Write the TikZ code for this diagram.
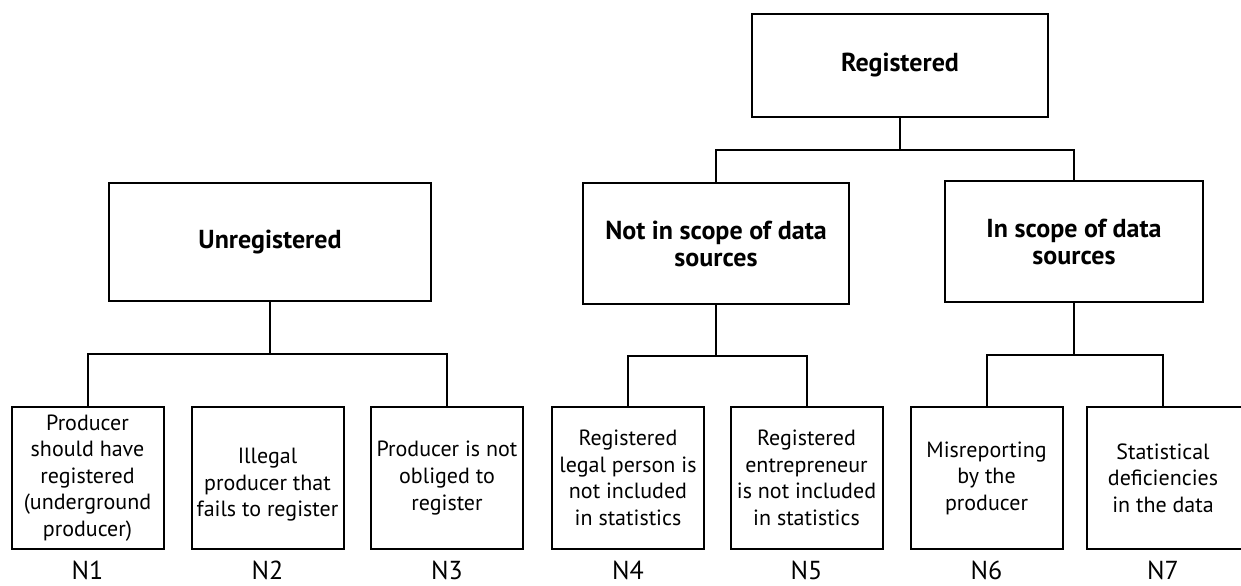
\documentclass[tikz,border=0pt]{standalone}
\usepackage{fontspec}
\setmainfont{PT Sans}
\tikzset{
  box/.style={draw, line width=1pt, inner sep=0pt, align=center,
    font=\fontsize{11}{13.3}\selectfont},
  hbox/.style={box, font=\bfseries\fontsize{13}{13.5}\selectfont},
  leaf/.style={box, minimum width={152*0.5pt}, minimum height={142*0.5pt}},
  ltext/.style={inner sep=0pt, align=center, font=\fontsize{11}{13.3}\selectfont},
  lab/.style={font=\fontsize{13}{15}\selectfont, anchor=base, inner sep=0pt},
  conn/.style={line width=1pt}
}
\begin{document}
\begin{tikzpicture}[x=0.5pt,y=-0.5pt]
\useasboundingbox (0,0) rectangle (1241,585);
% top level
\node[hbox, minimum width={296*0.5pt}, minimum height={103*0.5pt}] (reg) at (900,65.5) {Registered};
\node[hbox, minimum width={322*0.5pt}, minimum height={118*0.5pt}] (unreg) at (270,242) {Unregistered};
\node[hbox, minimum width={266*0.5pt}, minimum height={121*0.5pt}] (notin) at (716,243.5) {Not in scope of data\\sources};
\node[hbox, minimum width={258*0.5pt}, minimum height={121*0.5pt}] (ins) at (1074,241.5) {In scope of data\\sources};
% leaves
\node[leaf] (n1) at (87.5,478) {Producer\\should have\\registered\\(underground\\producer)};
\node[leaf] (n2) at (267.5,478) {};
\node[ltext] (n2t) at (267.5,485) {Illegal\\producer that\\fails to register};
\node[leaf] (n3) at (447,478) {Producer is not\\obliged to\\register};
\node[leaf] (n4) at (628,478) {Registered\\legal person is\\not included\\in statistics};
\node[leaf] (n5) at (806.5,478) {Registered\\entrepreneur\\is not included\\in statistics};
\node[leaf] (n6) at (986.5,478) {Misreporting\\by the\\producer};
\node[leaf, minimum width={156*0.5pt}] (n7) at (1165,478) {};
\node[ltext] (n7t) at (1163,478) {Statistical\\deficiencies\\in the data};
% labels
\node[lab] (l1) at (87.5,579) {N1};
\node[lab] (l2) at (267.5,579) {N2};
\node[lab] (l3) at (447,579) {N3};
\node[lab] (l4) at (628,579) {N4};
\node[lab] (l5) at (806.5,579) {N5};
\node[lab] (l6) at (986.5,579) {N6};
\node[lab] (l7) at (1163,579) {N7};
% connectors
\coordinate (rb) at (900,150);
\draw[conn] (reg.south) -- (rb);
\draw[conn] (notin.north) |- (rb) -| (ins.north);
\coordinate (ub) at (270,354);
\draw[conn] (unreg.south) -- (ub);
\draw[conn] (n1.north) |- (ub) -| (n3.north);
\coordinate (nb) at (716,356);
\draw[conn] (notin.south) -- (nb);
\draw[conn] (n4.north) |- (nb) -| (n5.north);
\coordinate (ib) at (1074,355);
\draw[conn] (ins.south) -- (ib);
\draw[conn] (n6.north) |- (ib) -| (n7t.north |- n7.north);
\end{tikzpicture}
\end{document}
